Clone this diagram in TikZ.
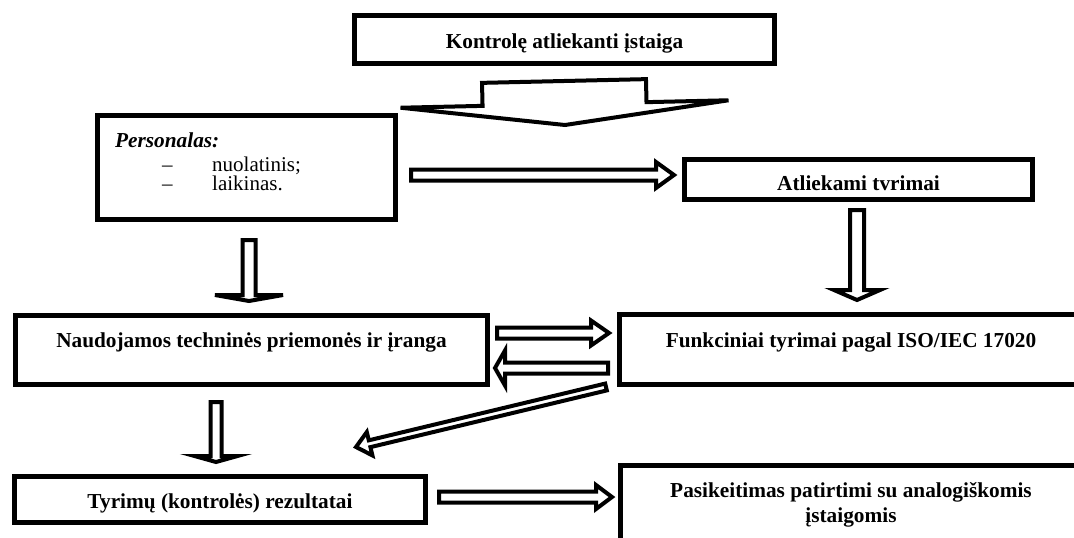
\documentclass[tikz,border=0pt]{standalone}
\usepackage{fontspec}
\setmainfont{Liberation Serif}
\usetikzlibrary{calc}

\tikzset{
  box/.style={draw, line width=5pt, inner sep=0pt, align=center,
    font=\fontsize{21.3}{25}\selectfont\bfseries},
  itemtxt/.style={inner sep=0pt, anchor=base west, font=\fontsize{21}{25}\selectfont},
  arrowline/.style={draw, line width=4pt, fill=white, miter limit=10},
}

% hollow block arrow: tail, tip, shaft half width, head half width, head length
\newcommand{\blockarrow}[5]{%
  \coordinate (bhead) at ($(#2)!#5pt!(#1)$);
  \draw[arrowline] ($(#1)!#3pt!90:(#2)$) -- ($(bhead)!#3pt!-90:(#1)$) -- ($(bhead)!#4pt!-90:(#1)$) -- (#2)
    -- ($(bhead)!#4pt!90:(#1)$) -- ($(bhead)!#3pt!90:(#1)$) -- ($(#1)!#3pt!-90:(#2)$) -- cycle;
}

\begin{document}
\begin{tikzpicture}[x=1pt,y=-1pt]
  \path[use as bounding box] (0,0) rectangle (1074,538);
  \clip (0,0) rectangle (1074,538);

  \node[box, minimum width=420pt, minimum height=48pt, text height=17pt, text depth=0pt] (ctrl) at (564.5,39.5) {Kontrolę atliekanti įstaiga};

  \node[box, minimum width=298pt, minimum height=104pt] (pers) at (246.5,167.5) {};
  \node[itemtxt, font=\fontsize{21.3}{25}\selectfont\bfseries\itshape] (perst) at (115,147) {Personalas:};
  \node[itemtxt] (dash1) at (162,171) {–};
  \node[itemtxt] (item1) at (212,171) {nuolatinis;};
  \node[itemtxt] (dash2) at (162,190) {–};
  \node[itemtxt] (item2) at (212,190) {laikinas.};

  \node[box, minimum width=348pt, minimum height=40pt, text height=21pt, text depth=0pt] (atl) at (858.5,179.5) {Atliekami tvrimai};
  \node[box, minimum width=472pt, minimum height=69pt, text height=15pt, text depth=21pt] (naud) at (251.5,350) {Naudojamos techninės priemonės ir įranga};
  \node[box, minimum width=463pt, minimum height=70pt, text height=15pt, text depth=20pt] (funk) at (851,349.5) {Funkciniai tyrimai pagal ISO/IEC 17020};
  \node[box, minimum width=411pt, minimum height=46pt, text height=17pt, text depth=0pt] (tyr) at (220,499.5) {Tyrimų (kontrolės) rezultatai};
  \node[box, minimum width=461pt, minimum height=79pt] (pasik) at (851,505) {Pasikeitimas patirtimi su analogiškomis\\įstaigomis};

  % arrow ends
  \coordinate (ctrl-out) at (564,81);
  \coordinate (pers-in) at (565,125);
  \coordinate (pers-out) at (411,175);
  \coordinate (atl-in) at (674,175);
  \coordinate (pers-down) at (249,240);
  \coordinate (naud-in) at (249,301);
  \coordinate (atl-down) at (857,210);
  \coordinate (funk-in) at (857,300);
  \coordinate (naud-out) at (497,333);
  \coordinate (funk-in2) at (609,333);
  \coordinate (funk-out) at (608,368);
  \coordinate (naud-in2) at (495,368);
  \coordinate (funk-out2) at (606,387);
  \coordinate (tyr-in) at (356,447);
  \coordinate (naud-down) at (216,402);
  \coordinate (tyr-in2) at (216,462);
  \coordinate (tyr-out) at (439,497);
  \coordinate (pasik-in) at (612,497);

  \blockarrow{ctrl-out}{pers-in}{82}{164}{21}
  \blockarrow{pers-out}{atl-in}{5.5}{13}{18}
  \blockarrow{pers-down}{naud-in}{6.5}{34}{6}
  \blockarrow{atl-down}{funk-in}{7}{23}{10}
  \blockarrow{naud-out}{funk-in2}{5.5}{12.5}{18}
  \blockarrow{funk-out}{naud-in2}{5.5}{17.5}{10}
  \blockarrow{funk-out2}{tyr-in}{3.5}{12}{14}
  \blockarrow{naud-down}{tyr-in2}{5.5}{21.5}{6}
  \blockarrow{tyr-out}{pasik-in}{5.5}{12}{16}
\end{tikzpicture}
\end{document}
